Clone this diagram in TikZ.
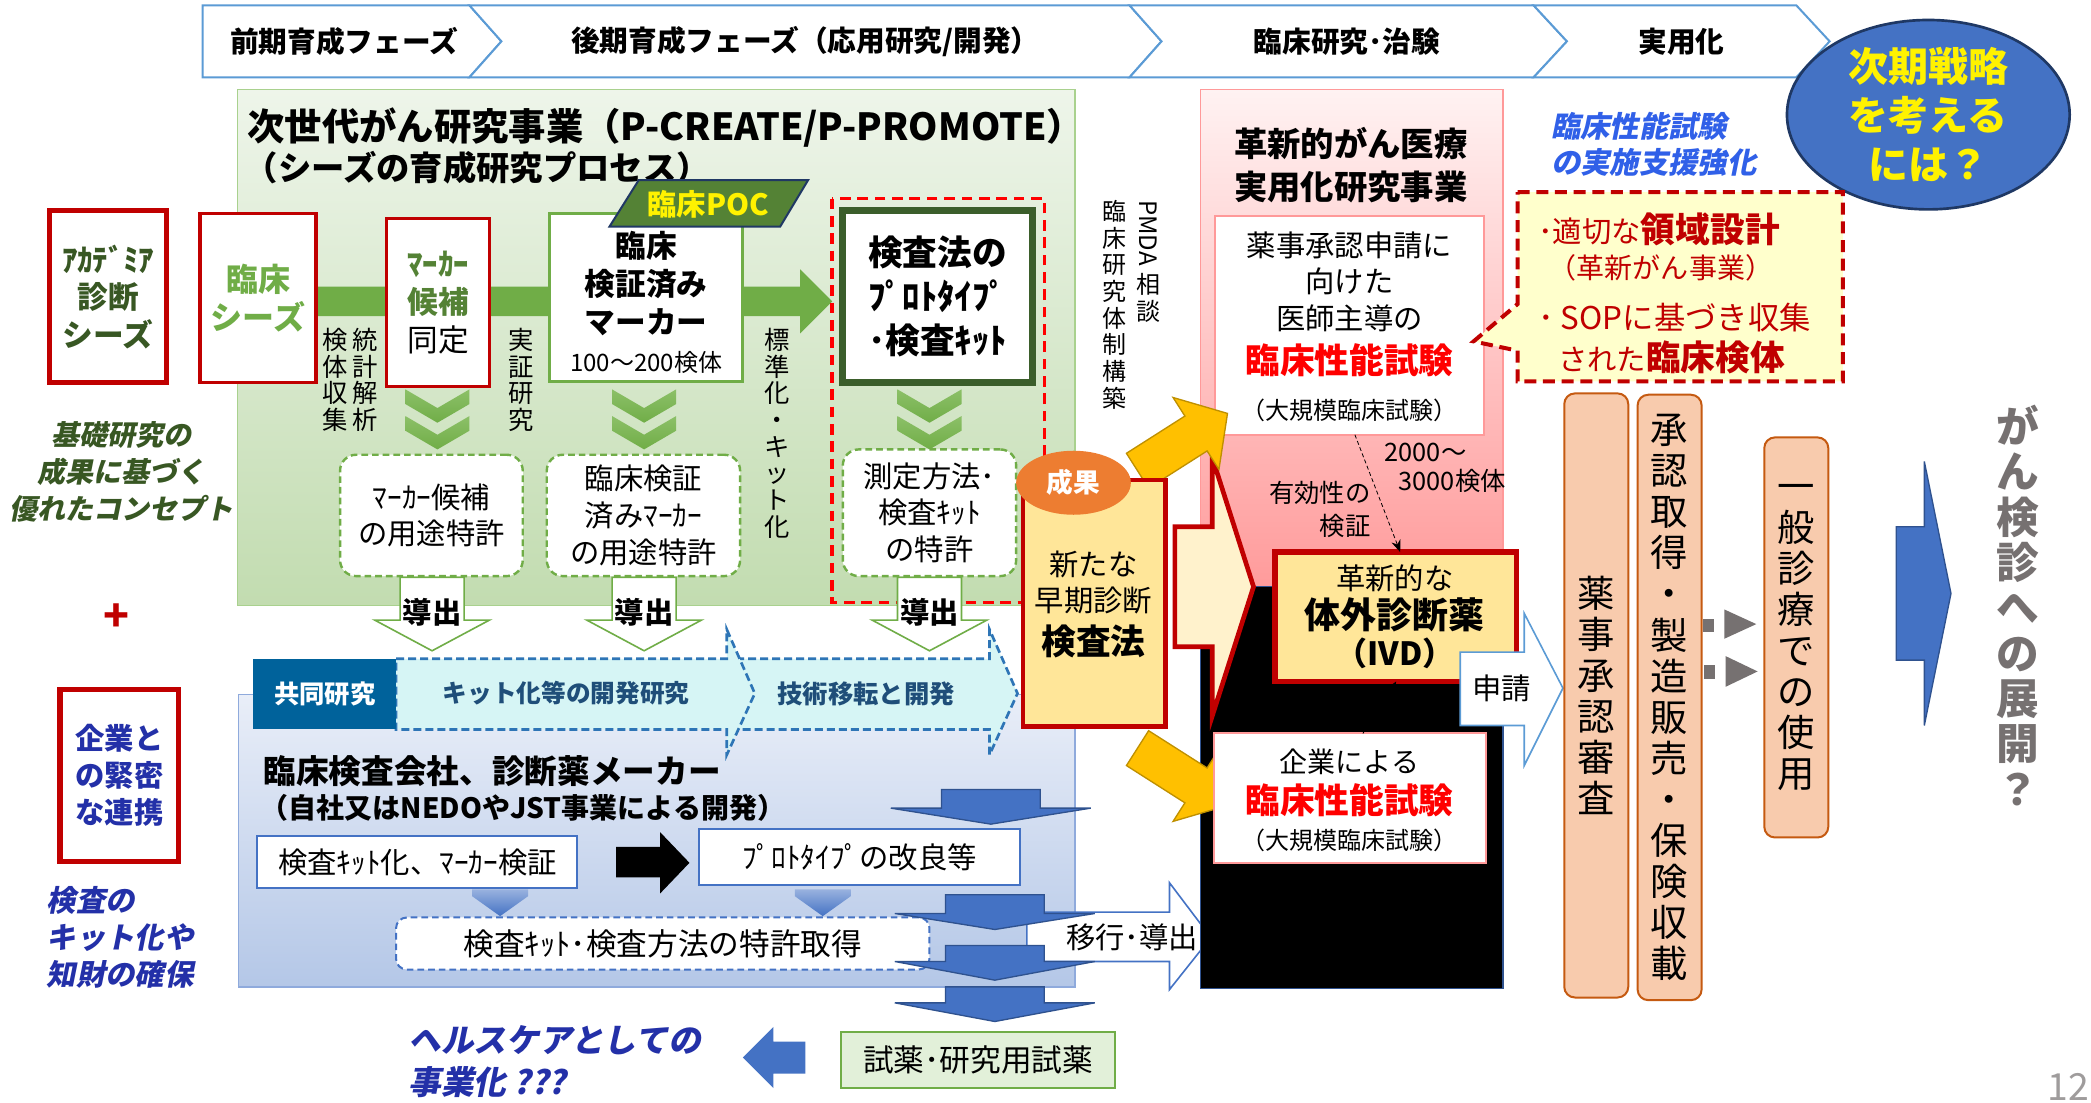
\documentclass[tikz,border=0pt]{standalone}
\usepackage{fontspec}
\setmainfont{Noto Sans CJK JP}
\newfontfamily\jpsl[FakeSlant=0.2]{Noto Sans CJK JP}
\usetikzlibrary{arrows.meta,shapes.geometric}
\newcommand\fzs[2]{\fontsize{#1}{#2}\selectfont}
\definecolor{phasebd}{HTML}{5B9BD5}
\definecolor{grntop}{HTML}{EEF5EA}
\definecolor{grnbot}{HTML}{C2DCB0}
\definecolor{grnbd}{HTML}{A9D18E}
\definecolor{grn}{HTML}{70AD47}
\definecolor{grnlt}{HTML}{8CC068}
\definecolor{dgrn}{HTML}{385723}
\definecolor{mgrn}{HTML}{548235}
\definecolor{boxgrn}{HTML}{3B5E2B}
\definecolor{redbd}{HTML}{C00000}
\definecolor{brred}{HTML}{FF0000}
\definecolor{pocbd}{HTML}{203864}
\definecolor{bluetop}{HTML}{E9EEF8}
\definecolor{bluebot}{HTML}{B4C7E7}
\definecolor{bluebd}{HTML}{8FAADC}
\definecolor{kyodo}{HTML}{00629B}
\definecolor{cyanf}{HTML}{D6F5F5}
\definecolor{cyanbd}{HTML}{2E75B6}
\definecolor{navy}{HTML}{1F4E79}
\definecolor{barrow}{HTML}{4472C4}
\definecolor{barrowbd}{HTML}{2F528F}
\definecolor{orng}{HTML}{ED7D31}
\definecolor{ylw}{HTML}{FFE699}
\definecolor{pale}{HTML}{FFF2CC}
\definecolor{gold}{HTML}{FFC000}
\definecolor{goldbd}{HTML}{BF9000}
\definecolor{pinktop}{HTML}{FFF2F2}
\definecolor{pinkbot}{HTML}{FF9B9B}
\definecolor{pinkbd}{HTML}{FF9999}
\definecolor{callf}{HTML}{FFFFCC}
\definecolor{tanf}{HTML}{F8CBAD}
\definecolor{tanbd}{HTML}{C55A11}
\definecolor{gry}{HTML}{767171}
\definecolor{itblue}{HTML}{3060E8}
\definecolor{dblue}{HTML}{2330A8}
\definecolor{lgfill}{HTML}{E2F0D9}
\definecolor{ellbd}{HTML}{1F3864}
\tikzset{
 lbl/.style={inner sep=0pt, align=center},
 phase/.style={draw=phasebd, fill=white, line width=1.5},
 redframe/.style={draw=redbd, fill=white, line width=4, inner sep=0pt, align=center},
 redthin/.style={draw=redbd, fill=white, line width=2.5, inner sep=0pt, align=center},
 grnframe/.style={draw=grn, fill=white, line width=2.5, inner sep=0pt, align=center},
 patbox/.style={draw=grn, fill=white, line width=1.8, dash pattern=on 5pt off 3pt, rounded corners=12, inner sep=0pt, align=center, font=\fzs{22}{27.5}},
 doutarrow/.style={draw=grn, fill=white, line width=1.2},
 bluebox/.style={draw=barrow, fill=white, line width=1.5, inner sep=0pt, align=center, font=\fzs{22}{22}},
 bigblue/.style={draw=barrowbd, fill=barrow, line width=1},
 goldarrow/.style={draw=goldbd, fill=gold, line width=1},
 tanbox/.style={draw=tanbd, fill=tanf, line width=1.5, rounded corners=8, inner sep=0pt, align=center, font=\fzs{28}{30.8}},
 vt/.style={inner sep=0pt, align=center, anchor=north, font=\fzs{19}{20}},
 whitebox/.style={draw=pinkbd, fill=white, line width=1.5, inner sep=0pt},
}
\newcommand\dchev[1]{%
  \shade[top color=grnlt, bottom color=grn] (#1-24,292) -- (#1,306) -- (#1+24,292) -- (#1+24,303) -- (#1,317) -- (#1-24,303) -- cycle;%
  \shade[top color=grnlt, bottom color=grn] (#1-24,312) -- (#1,326) -- (#1+24,312) -- (#1+24,323) -- (#1,337) -- (#1-24,323) -- cycle;}
\newcommand\dout[2]{%
  \draw[doutarrow] (#1-24,433) -- (#1+24,433) -- (#1+24,465) -- (#1+43,465) -- (#1,488) -- (#1-43,465) -- (#1-24,465) -- cycle;%
  \node[font=\fzs{22}{22}\bfseries] (#2) at (#1,459) {導出};}
\newcommand\bdown[4]{%
  \draw[bigblue] (#1-37,#2) -- (#1+37,#2) -- (#1+37,#3) -- (#1+75,#3) -- (#1,#4) -- (#1-75,#3) -- (#1-37,#3) -- cycle;}
\newcommand\bwedge[1]{%
  \shade[top color=barrow!55, bottom color=barrow] (#1-21,667) -- (#1+21,667) -- (#1+21,672) -- (#1,687) -- (#1-21,672) -- cycle;}
\begin{document}
\begin{tikzpicture}[x=1pt,y=-1pt]
\useasboundingbox (0,0) rectangle (1568,827);
\fill[white] (0,0) rectangle (1568,827);

% ---------- phase bar
\draw[phase] (152,4) -- (352,4) -- (376,31) -- (352,58) -- (152,58) -- cycle;
\draw[phase] (352,4) -- (847,4) -- (871,31) -- (847,58) -- (352,58) -- (376,31) -- cycle;
\draw[phase] (847,4) -- (1150,4) -- (1175,31) -- (1150,58) -- (847,58) -- (871,31) -- cycle;
\draw[phase] (1150,4) -- (1347,4) -- (1372,31) -- (1347,58) -- (1150,58) -- (1175,31) -- cycle;
\node[font=\fzs{21.5}{21.5}\bfseries] (ph1) at (258,31) {前期育成フェーズ};
\node[font=\fzs{21.5}{21.5}\bfseries] (ph2) at (604,31) {後期育成フェーズ（応用研究/開発）};
\node[font=\fzs{21.5}{21.5}\bfseries] (ph3) at (1010,31) {臨床研究･治験};
\node[font=\fzs{21.5}{21.5}\bfseries] (ph4) at (1261,31) {実用化};

% ---------- green region
\shade[top color=grntop, bottom color=grnbot] (178,67) rectangle (806,454);
\draw[grnbd, line width=1] (178,67) rectangle (806,454);
\node[anchor=west, font=\fzs{28}{28}\bfseries] (gt1) at (182,96) {次世代がん研究事業（P-CREATE/P-PROMOTE）};
\node[anchor=west, font=\fzs{25}{25}\bfseries] (gt2) at (180,126) {（シーズの育成研究プロセス）};

\fill[grn] (236,215) -- (600,215) -- (600,202) -- (624,226) -- (600,250) -- (600,237) -- (236,237) -- cycle;

\node[redthin, minimum width=87, minimum height=127, font=\fzs{24}{28}\bfseries, text=grn] (rseed) at (193.5,223.5) {臨床\\シーズ};
\node[redthin, minimum width=77, minimum height=126, font=\fzs{23}{28.5}\bfseries, text=mgrn] (mcand) at (328.5,227) {ﾏｰｶｰ\\候補\\{\mdseries\color{black}同定}};
\node[grnframe, minimum width=145, minimum height=126] (vmark) at (484.5,223) {};
\node[lbl, font=\fzs{23}{28.5}\bfseries] (vmarkt) at (484.5,227) {臨床\\検証済み\\マーカー\\{\mdseries\fzs{18}{28.5}100～200検体}};

\draw[fill=mgrn, draw=pocbd, line width=1.5] (479,135) -- (606,135) -- (585,170) -- (457,170) -- cycle;
\node[font=\fzs{22}{22}\bfseries, text=yellow] (poc) at (531,153) {臨床POC};

\draw[brred, line width=2.5, dash pattern=on 8pt off 5pt] (624,149) rectangle (783,452);
\node[draw=boxgrn, fill=white, line width=5, minimum width=142, minimum height=129, inner sep=0pt, align=center, font=\fzs{26}{33}\bfseries] (proto) at (703,222.5) {検査法の\\ﾌﾟﾛﾄﾀｲﾌﾟ\\･検査ｷｯﾄ};

\node[vt] (kentai) at (251,246) {検\\体\\収\\集};
\node[vt] (toukei) at (274,246) {統\\計\\解\\析};
\node[vt] (jissho) at (391,246) {実\\証\\研\\究};
\node[vt] (hyoujun) at (583,246) {標\\準\\化\\・\\キ\\ッ\\ト\\化};

\dchev{328}
\dchev{483}
\dchev{697}

\node[patbox, minimum width=137, minimum height=91] (pat1) at (323.5,386.5) {ﾏｰｶｰ候補\\の用途特許};
\node[patbox, minimum width=145, minimum height=91] (pat2) at (482.5,386.5) {臨床検証\\済みﾏｰｶｰ\\の用途特許};
\node[patbox, minimum width=130, minimum height=95] (pat3) at (697,384.5) {測定方法･\\検査ｷｯﾄ\\の特許};

% ---------- left column
\node[redframe, minimum width=88, minimum height=129, font=\fzs{23}{28}\bfseries, text=dgrn] (acad) at (81,222.5) {ｱｶﾃﾞﾐｱ\\診断\\シーズ};
\node[lbl, font=\jpsl\fzs{21}{27.5}\bfseries, text=dgrn] (kiso) at (91,354) {基礎研究の\\成果に基づく\\優れたコンセプト};
\node[font=\fzs{32}{32}\bfseries, text=redbd] (plus) at (87,463) {+};
\node[redframe, minimum width=89, minimum height=129, font=\fzs{22}{28}\bfseries, text=dblue] (renkei) at (89.5,581.5) {企業と\\の緊密\\な連携};
\node[anchor=west, lbl, align=left, font=\jpsl\fzs{22}{27.5}\bfseries, text=dblue] (kitka) at (35,703) {検査の\\キット化や\\知財の確保};

% ---------- blue region
\shade[top color=bluetop, bottom color=bluebot] (179,521) rectangle (806,740);
\draw[bluebd, line width=1] (179,521) rectangle (806,740);

\dout{324}{do1}
\dout{483}{do2}
\dout{697}{do3}

\draw[cyanbd, fill=cyanf, line width=2, dash pattern=on 6pt off 3pt] (552,494) -- (742,494) -- (742,472) -- (763,520) -- (742,566) -- (742,547) -- (552,547) -- cycle;
\draw[cyanbd, fill=cyanf, line width=2, dash pattern=on 6pt off 3pt] (297,494) -- (545,494) -- (545,472) -- (566,520) -- (545,566) -- (545,547) -- (297,547) -- cycle;
\node[fill=kyodo, minimum width=107, minimum height=53, inner sep=0pt, font=\fzs{19}{19}\bfseries, text=white] (kyodo) at (243.5,520.5) {共同研究};
\node[font=\fzs{18.5}{18.5}\bfseries, text=navy] (kaihatsu) at (424.5,520) {キット化等の開発研究};
\node[font=\fzs{19}{19}\bfseries, text=navy] (iten) at (649.5,520) {技術移転と開発};

\node[anchor=west, font=\fzs{24.5}{24.5}\bfseries] (rinsho) at (194,578) {臨床検査会社、診断薬メーカー};
\node[anchor=west, font=\fzs{21}{21}\bfseries] (jisha) at (192,606) {（自社又はNEDOやJST事業による開発）};

\node[bluebox, minimum width=240, minimum height=39] (kitbox) at (313,646.5) {検査ｷｯﾄ化、ﾏｰｶｰ検証};
\node[bluebox, minimum width=241, minimum height=42] (kairyo) at (644.5,643) {ﾌﾟﾛﾄﾀｲﾌﾟの改良等};
\fill[black] (462,635) -- (495,635) -- (495,624) -- (517,647) -- (495,670) -- (495,658) -- (462,658) -- cycle;
\bwedge{375}
\bwedge{617}
\node[draw=barrow, fill=white, line width=1.5, dash pattern=on 5pt off 3pt, rounded corners=8, minimum width=400, minimum height=39, inner sep=0pt, font=\fzs{23}{23}] (patent) at (497,707.5) {検査ｷｯﾄ･検査方法の特許取得};

\draw[draw=barrow, fill=white, line width=1.2] (770,684) -- (877,684) -- (877,662) -- (908,703) -- (877,742) -- (877,721) -- (770,721) -- cycle;
\bdown{743}{592}{606}{618}
\bdown{746}{671}{685}{697}
\bdown{746}{709}{721}{735}
\bdown{746}{740}{752}{766}
\node[font=\fzs{22}{22}] (ikou) at (849,703) {移行･導出};

\node[draw=grn, fill=lgfill, line width=1.5, minimum width=205, minimum height=42, inner sep=0pt, font=\fzs{23}{23}] (shiyaku) at (733.5,795) {試薬･研究用試薬};
\fill[barrow] (604,781) -- (580,781) -- (580,770) -- (557,793) -- (580,816) -- (580,805) -- (604,805) -- cycle;
\node[anchor=west, lbl, align=left, font=\jpsl\fzs{24.5}{32}\bfseries, text=dblue] (health) at (306,796) {ヘルスケアとしての\\事業化 ???};

% ---------- middle column
\node[rotate=-90, anchor=west, inner sep=0pt, font=\fzs{18}{18}] (pmda) at (861,150) {PMDA};
\node[vt, font=\fzs{18}{20}] (sodan) at (861,205) {相\\談};
\node[vt, font=\fzs{18}{20}] (taisei) at (836,150) {臨\\床\\研\\究\\体\\制\\構\\築};

\shade[top color=pinktop, bottom color=pinkbot] (900,67) rectangle (1127,440);
\draw[pinkbd, line width=1] (900,67) rectangle (1127,440);
\draw[fill=black, draw=barrowbd, line width=1] (900,440) rectangle (1127,741);
\node[lbl, font=\fzs{25}{32}\bfseries] (kakushin) at (1013,124) {革新的がん医療\\実用化研究事業};

\node[whitebox, minimum width=202, minimum height=164] (wbox) at (1012,244) {};
\node[font=\fzs{22}{22}] (w1) at (1012,184) {薬事承認申請に};
\node[font=\fzs{22}{22}] (w2) at (1012,211) {向けた};
\node[font=\fzs{22}{22}] (w3) at (1012,239) {医師主導の};
\node[font=\fzs{26}{26}\bfseries, text=brred] (w4) at (1012,270) {臨床性能試験};
\node[font=\fzs{18}{18}] (w5) at (1012,308) {（大規模臨床試験）};

\node[font=\fzs{19}{19}] (k1) at (1069,339) {2000～};
\node[font=\fzs{19}{19}] (k2) at (1089,361) {3000検体};
\node[anchor=east, lbl, align=right, font=\fzs{19}{25}] (yuko) at (1028,382) {有効性の\\検証};

\draw[draw=redbd, fill=pale, line width=3.5] (881,395) -- (909,395) -- (909,343) -- (940,440) -- (909,537) -- (909,485) -- (881,485) -- cycle;

\begin{scope}[shift={(853,353)}, rotate=32.5]
\draw[goldarrow] (0,-15.5) -- (52,-15.5) -- (52,-32) -- (80,0) -- (52,32) -- (52,15.5) -- (0,15.5) -- cycle;
\end{scope}
\begin{scope}[shift={(853,561)}, rotate=-32.5]
\draw[goldarrow] (0,-15.5) -- (52,-15.5) -- (52,-32) -- (80,0) -- (52,32) -- (52,15.5) -- (0,15.5) -- cycle;
\end{scope}

\node[draw=redbd, fill=ylw, line width=3.5, minimum width=107, minimum height=185, inner sep=0pt] (newm) at (820.5,452.5) {};
\node[font=\fzs{22}{22}] (n1) at (820,423) {新たな};
\node[font=\fzs{22}{22}] (n2) at (820,450) {早期診断};
\node[font=\fzs{26}{26}\bfseries] (n3) at (820,481) {検査法};
\node[ellipse, fill=orng, minimum width=86, minimum height=48, inner sep=0pt, font=\fzs{20}{20}\bfseries, text=white] (seika) at (805,362) {成果};

\node[draw=redbd, fill=ylw, line width=4, minimum width=181, minimum height=97, inner sep=0pt] (ivd) at (1046.5,462.5) {};
\node[font=\fzs{22}{22}] (i1) at (1046,434) {革新的な};
\node[font=\fzs{27}{27}\bfseries] (i2) at (1046,461) {体外診断薬};
\node[font=\fzs{24}{24}\bfseries] (i3) at (1046,490) {（IVD）};

\node[whitebox, minimum width=204, minimum height=97] (kigyo) at (1012,598.5) {};
\node[font=\fzs{21}{21}] (g1) at (1012,571) {企業による};
\node[font=\fzs{26}{26}\bfseries, text=brred] (g2) at (1012,600) {臨床性能試験};
\node[font=\fzs{18}{18}] (g3) at (1012,630) {（大規模臨床試験）};

\coordinate (da) at (1016,326);
\coordinate (db) at (1050,414);
\draw[densely dashed, line width=0.6, -{Stealth[length=9pt,width=7pt]}] (da) -- (db);
\coordinate (ka) at (1022,550);
\coordinate (kb) at (1047,511);
\draw[line width=0.6, -{Stealth[length=9pt,width=7pt]}] (ka) -- (kb);

\draw[draw=phasebd, fill=white, line width=1.2] (1095,489) -- (1143,489) -- (1143,460) -- (1172,516) -- (1143,574) -- (1143,544) -- (1095,544) -- cycle;
\node[font=\fzs{22}{22}] (shinsei) at (1126,516) {申請};

% ---------- right column
\node[anchor=west, lbl, align=left, font=\jpsl\fzs{22}{27}\bfseries, text=itblue] (shien) at (1163,108.5) {臨床性能試験\\の実施支援強化};
\node[ellipse, fill=barrow, draw=ellbd, line width=2, minimum width=212, minimum height=130, inner sep=0pt, align=center, font=\fzs{30}{36.5}\bfseries, text=yellow] (strat) at (1446,86) {次期戦略\\を考える\\には？};

\draw[draw=redbd, fill=callf, line width=3, dash pattern=on 9pt off 5pt] (1138,144) -- (1382,144) -- (1382,286) -- (1138,286) -- (1138,263) -- (1105,256) -- (1138,228) -- cycle;
\node[anchor=west, text=redbd, font=\fzs{22}{22}] (c1) at (1150,172) {･適切な{\bfseries\fzs{26}{26}領域設計}};
\node[anchor=west, text=redbd, font=\fzs{21}{21}] (c2) at (1158,201) {（革新がん事業）};
\node[anchor=west, text=redbd, font=\fzs{23.5}{23.5}] (c3) at (1150,238) {･ SOPに基づき収集};
\node[anchor=west, text=redbd, font=\fzs{22}{22}] (c4) at (1165,268) {された{\bfseries\fzs{26}{26}臨床検体}};

\node[tanbox, minimum width=48, minimum height=453] (yakuji) at (1197,521.5) {薬\\事\\承\\認\\審\\査};
\node[tanbox, minimum width=48, minimum height=454] (shonin) at (1252,523) {承\\認\\取\\得\\・\\製\\造\\販\\売\\・\\保\\険\\収\\載};
\node[tanbox, minimum width=48, minimum height=300] (ippan) at (1347,478) {一\\般\\診\\療\\で\\の\\使\\用};

\fill[gry] (1277,464) rectangle (1285,474);
\fill[gry] (1293,457) -- (1317,468) -- (1293,479) -- cycle;
\fill[gry] (1278,499) rectangle (1286,509);
\fill[gry] (1294,492) -- (1318,503.5) -- (1294,515) -- cycle;

\draw[bigblue] (1422,395) -- (1443,395) -- (1443,346) -- (1463,445) -- (1443,544) -- (1443,495) -- (1422,495) -- cycle;
\node[lbl, font=\fzs{32}{34}\bfseries, text=gry] (tenkai) at (1513,454) {が\\ん\\検\\診\\へ\\の\\展\\開\\？};

\node[font=\fzs{28}{28}, text=gry!70] (pnum) at (1551,815) {12};
\end{tikzpicture}
\end{document}
